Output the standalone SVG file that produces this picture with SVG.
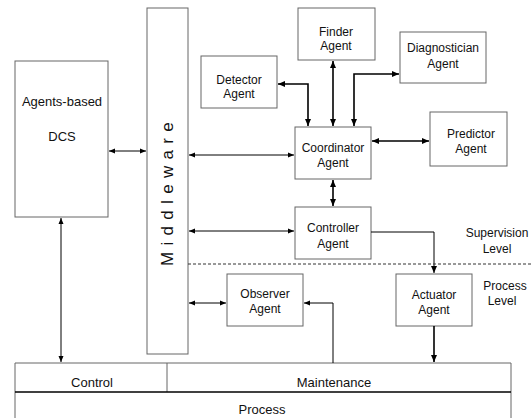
<svg xmlns="http://www.w3.org/2000/svg" width="531" height="418" viewBox="0 0 531 418">
<defs>
<marker id="ah" markerUnits="userSpaceOnUse" markerWidth="8" markerHeight="8" viewBox="0 0 8 8" refX="7" refY="4" orient="auto-start-reverse">
<path d="M0,1 L7,4 L0,7 Z" fill="#000"/>
</marker>
<marker id="ahs" markerUnits="userSpaceOnUse" markerWidth="7" markerHeight="7" viewBox="0 0 7 7" refX="6" refY="3.5" orient="auto-start-reverse">
<path d="M0,1 L6,3.5 L0,6 Z" fill="#000"/>
</marker>
</defs>
<style>
.box{fill:#fff;stroke:#666;stroke-width:1}
.t{font-family:"Liberation Sans",Arial,sans-serif;font-size:12px;fill:#111;text-anchor:middle}
.t13{font-family:"Liberation Sans",Arial,sans-serif;font-size:13px;fill:#111;text-anchor:middle}
.c{fill:none;stroke:#000;stroke-width:1.6}
.ct{fill:none;stroke:#000;stroke-width:1}
.bi{marker-start:url(#ah);marker-end:url(#ah)}
.end{marker-end:url(#ah)}
</style>
<rect width="531" height="418" fill="#fff"/>
<g id="dcs"><rect class="box" x="15" y="61" width="93" height="156"/><text class="t13" x="62" y="106">Agents-based</text><text class="t13" x="62" y="141">DCS</text></g>
<g id="middleware"><rect class="box" x="147" y="8" width="41" height="346"/><text font-family="Liberation Sans,Arial,sans-serif" font-size="17" fill="#111" text-anchor="middle" letter-spacing="6.3" transform="translate(173,191) rotate(-90)">Middleware</text></g>
<g id="detector"><rect class="box" x="201" y="56" width="76" height="52"/><text class="t" x="239" y="84">Detector</text><text class="t" x="239" y="98">Agent</text></g>
<g id="finder"><rect class="box" x="298" y="8" width="77" height="52"/><text class="t" x="336" y="36">Finder</text><text class="t" x="336" y="50">Agent</text></g>
<g id="diagnostician"><rect class="box" x="400" y="32" width="86" height="51"/><text class="t" x="443" y="52">Diagnostician</text><text class="t" x="443" y="68">Agent</text></g>
<g id="predictor"><rect class="box" x="430" y="112" width="77" height="54"/><text class="t" x="471" y="138">Predictor</text><text class="t" x="471" y="153">Agent</text></g>
<g id="coordinator"><rect class="box" x="295" y="127" width="76" height="52"/><text class="t" x="333" y="152">Coordinator</text><text class="t" x="333" y="167">Agent</text></g>
<g id="controller"><rect class="box" x="295" y="207" width="76" height="52"/><text class="t" x="333" y="232">Controller</text><text class="t" x="333" y="248">Agent</text></g>
<g id="actuator"><rect class="box" x="396" y="274" width="76" height="52"/><text class="t" x="434" y="299">Actuator</text><text class="t" x="434" y="314">Agent</text></g>
<g id="observer"><rect class="box" x="227" y="274" width="76" height="52"/><text class="t" x="265" y="298">Observer</text><text class="t" x="265" y="313">Agent</text></g>
<g id="levels"><text class="t" x="497" y="237">Supervision</text><text class="t" x="497" y="253">Level</text><text class="t" x="505" y="290">Process</text><text class="t" x="502" y="305">Level</text></g>
<g id="process">
<path d="M15,418 V363 H511 V418" fill="#fff" stroke="#666" stroke-width="1"/>
<line x1="167" y1="363" x2="167" y2="392" stroke="#666" stroke-width="1"/>
<line x1="15" y1="392" x2="511" y2="392" stroke="#000" stroke-width="1.5"/>
<text class="t13" x="92" y="387">Control</text>
<text class="t13" x="334" y="387">Maintenance</text>
<text class="t13" x="262" y="414">Process</text>
</g>
<g id="connectors">
<line class="ct" x1="109" y1="151" x2="146" y2="151" marker-start="url(#ahs)" marker-end="url(#ahs)"/>
<line class="ct" x1="61" y1="218" x2="61" y2="362" marker-start="url(#ahs)" marker-end="url(#ahs)"/>
<line class="ct" x1="189" y1="155" x2="294" y2="155" marker-start="url(#ahs)" marker-end="url(#ahs)"/>
<line class="ct" x1="189" y1="231" x2="294" y2="231" marker-start="url(#ahs)" marker-end="url(#ahs)"/>
<line class="ct" x1="189" y1="303" x2="226" y2="303" marker-start="url(#ahs)" marker-end="url(#ahs)"/>
<polyline class="c bi" points="278,84 308,84 308,126"/>
<line class="c bi" x1="333" y1="61" x2="333" y2="126"/>
<polyline class="c bi" points="354,126 354,74 399,74"/>
<line class="c bi" x1="372" y1="141" x2="429" y2="141"/>
<line class="c bi" x1="333" y1="180" x2="333" y2="206"/>
<polyline class="ct end" points="371,232 434,232 434,273"/>
<line class="c end" x1="434" y1="326" x2="434" y2="362"/>
<polyline class="ct" points="333,363 333,303 304,303" marker-end="url(#ahs)"/>
<line x1="188" y1="264" x2="531" y2="264" stroke="#333" stroke-width="1" stroke-dasharray="3,2"/>
</g>
</svg>
